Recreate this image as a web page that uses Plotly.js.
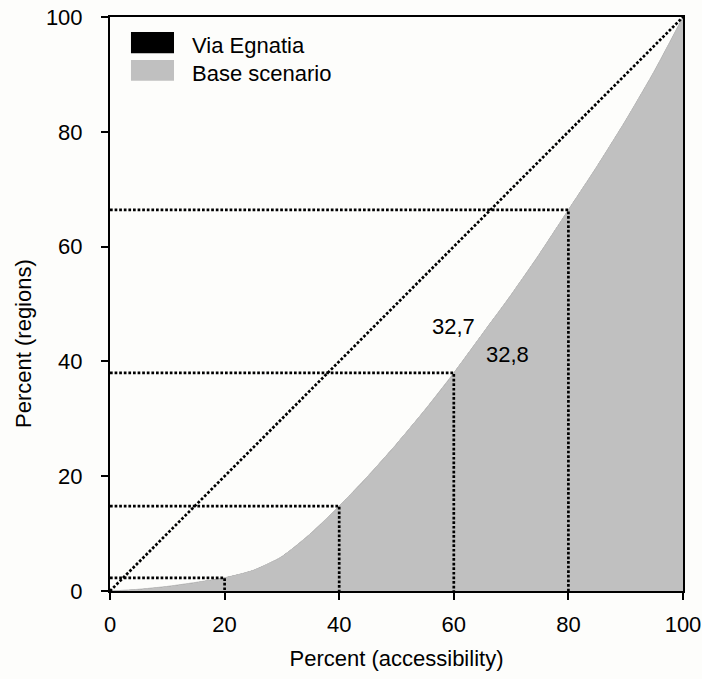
<!DOCTYPE html>
<html>
<head>
<meta charset="utf-8">
<script src="https://cdn.plot.ly/plotly-3.0.1.min.js"></script>
<style>
html,body{margin:0;padding:0;background:#fdfdfb;}
#chart{width:702px;height:679px;}
</style>
</head>
<body>
<div id="chart"></div>
<script>
// Cumulative percent of accessibility (x) and regions (y) – Lorenz curves
const pctAccessibility = [0, 5, 10, 15, 20, 25, 30, 35, 40, 45, 50, 55, 60, 65, 70, 75, 80, 85, 90, 95, 100];
const baseScenario     = [0, 0.3, 0.8, 1.5, 2.3, 3.6, 6.0, 10.0, 14.8, 20.0, 25.6, 31.6, 38.0, 44.8, 51.6, 58.8, 66.4, 74.0, 82.0, 90.6, 100];
const viaEgnatia       = [0, 0.3, 0.8, 1.5, 2.3, 3.6, 6.0, 10.0, 14.8, 20.0, 25.6, 31.6, 38.0, 44.8, 51.6, 58.8, 66.4, 74.0, 82.0, 90.6, 100];
const equalityX = [0, 100];
const equalityY = [0, 100];
const guideX = [20, 40, 60, 80];
const giniLabels = ['32,7', '32,8'];
const giniX = [59.9, 69.4];
const giniY = [46.0, 41.2];
const tickVals = [0, 20, 40, 60, 80, 100];
const seriesNames = ['Via Egnatia', 'Base scenario'];

const FONT = 'Liberation Sans, Arial, sans-serif';
const DOT = {color: '#000', width: 2.7, dash: '2.7px,1.9px'};

// guide lines (from the curve's own values)
const gx = [], gy = [];
guideX.forEach(v => {
  const yv = baseScenario[pctAccessibility.indexOf(v)];
  gx.push(0, v, v, null);
  gy.push(yv, yv, 0, null);
});

const traces = [
  {x: pctAccessibility, y: viaEgnatia, type: 'scatter', mode: 'lines', fill: 'tozeroy',
   fillcolor: '#000000', line: {width: 0, color: '#c0c0c0', shape: 'spline', smoothing: 0.6}, name: seriesNames[0], showlegend: false, hoverinfo: 'skip'},
  {x: pctAccessibility, y: baseScenario, type: 'scatter', mode: 'lines', fill: 'tozeroy',
   fillcolor: '#c0c0c0', line: {width: 1, color: '#c0c0c0', shape: 'spline', smoothing: 0.6}, name: seriesNames[1], showlegend: false, hoverinfo: 'skip'},
  {x: equalityX, y: equalityY, type: 'scatter', mode: 'lines',
   line: DOT, showlegend: false, hoverinfo: 'skip'},
  {x: gx, y: gy, type: 'scatter', mode: 'lines',
   line: DOT, showlegend: false, hoverinfo: 'skip', connectgaps: false}
];

const annotations = giniLabels.map((t, i) => ({
  x: giniX[i], y: giniY[i], xref: 'x', yref: 'y', text: t, showarrow: false,
  font: {family: FONT, size: 22, color: '#000'}, xanchor: 'center', yanchor: 'middle'
}));
// y axis title
annotations.push({x: -0.152, y: 0.432, xref: 'paper', yref: 'paper', text: 'Percent (regions)',
  textangle: -90, showarrow: false, font: {family: FONT, size: 22, color: '#000'}, xanchor: 'center', yanchor: 'middle'});
// legend texts
annotations.push({x: 0.1396, y: 0.951, xref: 'paper', yref: 'paper', text: seriesNames[0], showarrow: false,
  font: {family: FONT, size: 22, color: '#000'}, xanchor: 'left', yanchor: 'middle'});
annotations.push({x: 0.1396, y: 0.902, xref: 'paper', yref: 'paper', text: seriesNames[1], showarrow: false,
  font: {family: FONT, size: 22, color: '#000'}, xanchor: 'left', yanchor: 'middle'});

const shapes = [
  {type: 'rect', xref: 'paper', yref: 'paper', x0: 0.0366, x1: 0.1117, y0: 0.937, y1: 0.974, fillcolor: '#000', line: {width: 0}},
  {type: 'rect', xref: 'paper', yref: 'paper', x0: 0.0366, x1: 0.1117, y0: 0.889, y1: 0.925, fillcolor: '#c0c0c0', line: {width: 0}}
];

const layout = {
  width: 702, height: 679,
  margin: {l: 110, r: 19, t: 17, b: 88},
  paper_bgcolor: '#fdfdfb', plot_bgcolor: '#fdfdfb',
  showlegend: false,
  font: {family: FONT, size: 22, color: '#000'},
  xaxis: {
    range: [0, 100], tickvals: tickVals, ticks: 'outside', ticklen: 7, tickwidth: 2, tickcolor: '#000',
    showline: true, linecolor: '#000', linewidth: 2, mirror: true, showgrid: false, zeroline: false,
    tickfont: {family: FONT, size: 22, color: '#000'}, ticklabelstandoff: 6,
    title: {text: 'Percent (accessibility)', font: {family: FONT, size: 22, color: '#000'}, standoff: 14}
  },
  yaxis: {
    range: [0, 100], tickvals: tickVals, ticks: 'outside', ticklen: 7, tickwidth: 2, tickcolor: '#000',
    showline: true, linecolor: '#000', linewidth: 2, mirror: true, showgrid: false, zeroline: false,
    tickfont: {family: FONT, size: 22, color: '#000'}, ticklabelstandoff: 14
  },
  annotations: annotations,
  shapes: shapes
};

Plotly.newPlot('chart', traces, layout, {displayModeBar: false, staticPlot: true});
</script>
</body>
</html>
